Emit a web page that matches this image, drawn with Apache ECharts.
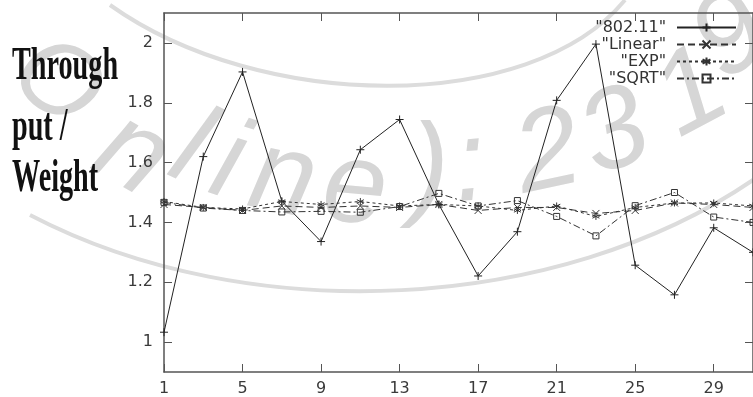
<!DOCTYPE html>
<html><head><meta charset="utf-8">
<script src="https://cdn.jsdelivr.net/npm/echarts@6/dist/echarts.min.js"></script>
<style>html,body{margin:0;padding:0;background:#fff}#c{width:753px;height:397px}</style>
</head><body><div id="c"></div>
<script>
const xs = [1,3,5,7,9,11,13,15,17,19,21,23,25,27,29,31];
const s80211 = [1.033,1.62,1.903,1.471,1.336,1.643,1.744,1.46,1.221,1.369,1.808,1.996,1.257,1.158,1.382,1.30];
const sLinear = [1.46,1.45,1.44,1.455,1.45,1.455,1.45,1.46,1.44,1.45,1.45,1.43,1.44,1.465,1.46,1.45];
const sExp = [1.47,1.45,1.445,1.47,1.46,1.47,1.455,1.46,1.455,1.44,1.455,1.42,1.45,1.465,1.465,1.455];
const sSqrt = [1.467,1.448,1.44,1.435,1.437,1.434,1.453,1.497,1.455,1.473,1.42,1.355,1.456,1.50,1.418,1.40];
const seriesNames = ['"802.11"','"Linear"','"EXP"','"SQRT"'];
const yTicks = [1,1.2,1.4,1.6,1.8,2];
const titleLines = ['Through','put /','Weight'];
const wmLetters = ['O','n','l','i','n','e',')',':','2','3','1','9'];

const pairs = v => xs.map((x,i)=>[x,v[i]]);
const axisCol = '#555';
const lblStyle = {color:'#3a3a3a', fontFamily:'"DejaVu Sans", Arial, sans-serif', fontSize:16};

const chart = echarts.init(document.getElementById('c'), null, {renderer:'canvas'});

// watermark placement (decoration)
const wmPos = [[56,84,-40],[132,155,-30],[190,150,-25],[228,165,-18],[283,180,-12],[355,190,-5],[430,172,0],[470,168,5],[548,155,12],[615,135,20],[692,95,28],[732,38,35]];
const graphics = [];
wmLetters.forEach((ch,i)=>{
  const p = wmPos[i];
  graphics.push({type:'text', x:p[0], y:p[1], rotation:p[2]*Math.PI/180, z:-10,
    style:{text:ch, fill:'#d6d6d6', font:'italic ' + (i===0?105:115) + 'px "Liberation Sans", Arial, sans-serif', align:'center', verticalAlign:'middle'}});
});
graphics.push({type:'bezierCurve', z:-10, shape:{x1:110,y1:5,cpx1:260,cpy1:112,cpx2:530,cpy2:115,x2:625,y2:0}, style:{stroke:'#dcdcdc', lineWidth:4, fill:null}});
graphics.push({type:'bezierCurve', z:-10, shape:{x1:30,y1:215,cpx1:250,cpy1:330,cpx2:560,cpy2:312,x2:753,y2:180}, style:{stroke:'#dcdcdc', lineWidth:4, fill:null}});
const titleY = [67,128,179];
titleLines.forEach((t,i)=>{
  graphics.push({type:'text', x:12, y:titleY[i], scaleX:0.6, z:5,
    style:{text:t, fill:'#111', font:'bold 47px "Liberation Serif", "Times New Roman", serif', align:'left', verticalAlign:'middle'}});
});

const symPlus = 'path://M5,0L5,10M0,5L10,5';
const symCross = 'path://M0,0L10,10M0,10L10,0';
const symStar = 'path://M5,0L5,10M0.7,2.5L9.3,7.5M0.7,7.5L9.3,2.5';
const symSq = 'path://M0,0L10,0L10,10L0,10Z';

function mk(name, data, sym, size, dash, col){
  return {name, type:'line', data:pairs(data), symbol:sym, symbolSize:size, showSymbol:true,
    xAxisIndex:0, yAxisIndex:0, animation:false,
    lineStyle:{color:col, width:1, type:dash},
    itemStyle:{color:sym===symSq?'rgba(0,0,0,0)':col, borderColor:col, borderWidth:1}};
}

chart.setOption({
  animation:false,
  backgroundColor:'#fff',
  graphic: graphics,
  grid:{left:164, top:13, right:-7, bottom:22, containLabel:false},
  legend:{
    orient:'vertical', right:16, top:19, padding:0, align:'right',
    itemWidth:59, itemHeight:10, itemGap:0,
    data: seriesNames,
    textStyle:{color:'#333', fontFamily:'"DejaVu Sans", Arial, sans-serif', fontSize:16, lineHeight:17, padding:[0,6,0,0]}
  },
  xAxis:[
    {type:'value', min:1, max:31, interval:4, position:'bottom',
     axisLine:{show:true, lineStyle:{color:axisCol, width:1.5}},
     axisTick:{show:true, inside:true, length:8, lineStyle:{color:axisCol}},
     axisLabel:Object.assign({margin:9, showMaxLabel:false}, lblStyle),
     splitLine:{show:false}},
    {type:'value', min:1, max:31, interval:4, position:'top',
     axisLine:{show:true, lineStyle:{color:axisCol, width:1.5}},
     axisTick:{show:true, inside:true, length:8, lineStyle:{color:axisCol}},
     axisLabel:{show:false}, splitLine:{show:false}}
  ],
  yAxis:[
    {type:'value', min:0.9, max:2.1, interval:0.1, position:'left',
     axisLine:{show:true, lineStyle:{color:axisCol, width:1.5}},
     axisTick:{show:true, inside:true, length:8, customValues:yTicks, lineStyle:{color:axisCol}},
     axisLabel:Object.assign({margin:11, customValues:yTicks}, lblStyle),
     splitLine:{show:false}},
    {type:'value', min:0.9, max:2.1, interval:0.1, position:'right',
     axisLine:{show:true, lineStyle:{color:axisCol, width:1.5}},
     axisTick:{show:true, inside:true, length:8, customValues:yTicks, lineStyle:{color:axisCol}},
     axisLabel:{show:false}, splitLine:{show:false}}
  ],
  series:[
    mk(seriesNames[0], s80211, symPlus, 8, 'solid', '#222'),
    mk(seriesNames[1], sLinear, symCross, 7, [7,4], '#333'),
    mk(seriesNames[2], sExp, symStar, 7, [3,3], '#333'),
    mk(seriesNames[3], sSqrt, symSq, 6, [7,3,2,3], '#333')
  ]
});
</script></body></html>
